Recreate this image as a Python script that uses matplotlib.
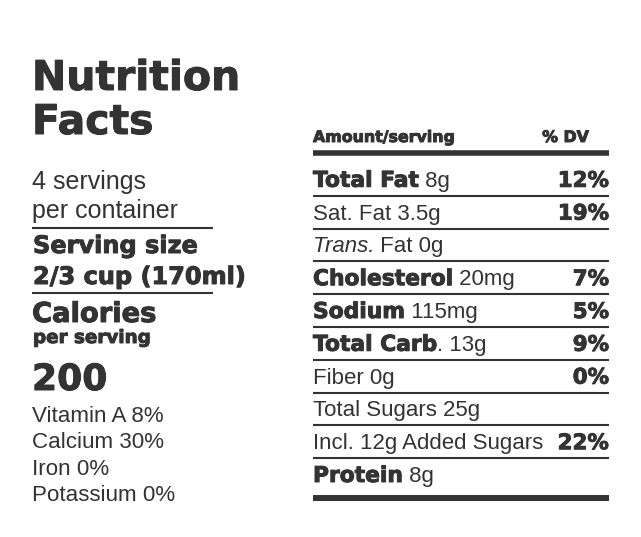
import matplotlib
matplotlib.use("Agg")
import matplotlib.pyplot as plt
import matplotlib.patheffects as pe

INK = "#333333"
# heavy look: DejaVu bold thickened with a thin stroke
HEAVY = dict(family="DejaVu Sans", fontweight="bold",
             path_effects=[pe.withStroke(linewidth=0.7, foreground=INK)])
REG = dict(family="Liberation Sans")

# left column text
title = ["Nutrition", "Facts"]
servings = ["4 servings", "per container"]
serving_size = ["Serving size", "2/3 cup (170ml)"]
calories = 200
vitamins = ["Vitamin A 8%", "Calcium 30%", "Iron 0%", "Potassium 0%"]

# right column rows: (bold part, italic part, regular part, %DV)
row_bold = ["Total Fat", "", "", "Cholesterol", "Sodium", "Total Carb", "", "", "", "Protein"]
row_ital = ["", "", "Trans.", "", "", "", "", "", "", ""]
row_reg = [" 8g", "Sat. Fat 3.5g", " Fat 0g", " 20mg", " 115mg", ". 13g", "Fiber 0g",
           "Total Sugars 25g", "Incl. 12g Added Sugars", " 8g"]
row_dv = ["12%", "19%", "", "7%", "5%", "9%", "0%", "", "22%", ""]

fig = plt.figure(figsize=(6.41, 5.37), dpi=100)
ax = fig.add_axes([0, 0, 1, 1])
ax.set_xlim(0, 641)
ax.set_ylim(537, 0)
ax.axis("off")
renderer = fig.canvas.get_renderer()


def right_edge(t):
    bb = t.get_window_extent(renderer)
    return ax.transData.inverted().transform((bb.x1, bb.y0))[0]


# title
ax.text(32, 90, title[0], fontsize=29.5, color=INK, **HEAVY)
ax.text(32, 134, title[1], fontsize=29.5, color=INK, **HEAVY)

ax.text(32, 189, servings[0], fontsize=18, color=INK, **REG)
ax.text(32, 218, servings[1], fontsize=18, color=INK, **REG)
ax.plot([32, 213], [228, 228], color=INK, lw=1.5, solid_capstyle="butt")
ax.text(33, 253, serving_size[0], fontsize=17.3, color=INK, **HEAVY)
ax.text(33, 284, serving_size[1], fontsize=17.3, color=INK, **HEAVY)
ax.plot([32, 213], [293, 293], color=INK, lw=1.5, solid_capstyle="butt")
ax.text(32, 322, "Calories", fontsize=19.7, color=INK, **HEAVY)
ax.text(33, 343, "per serving", fontsize=13.2, color=INK, **HEAVY)
ax.text(32, 390, str(calories), fontsize=26, color=INK, **HEAVY)
for i, v in enumerate(vitamins):
    ax.text(32, 422 + i * 26.3, v, fontsize=16.1, color=INK, **REG)

# right column
x0, x1 = 313, 609
ax.text(x0, 142, "Amount/serving", fontsize=11.4, color=INK, **HEAVY)
ax.text(589, 142, "% DV", fontsize=11.4, color=INK, ha="right", **HEAVY)
ax.plot([x0, x1], [153, 153], color=INK, lw=4, solid_capstyle="butt")
ax.plot([x0, x1], [498, 498], color=INK, lw=4.3, solid_capstyle="butt")

row_top = 163
row_h = 32.8
for i in range(len(row_reg)):
    base = row_top + (i + 1) * row_h - 9
    x = x0
    if row_bold[i]:
        t = ax.text(x, base, row_bold[i], fontsize=15.7, color=INK, **HEAVY)
        x = right_edge(t)
    if row_ital[i]:
        t = ax.text(x, base, row_ital[i], fontsize=16, color=INK, style="italic", **REG)
        x = right_edge(t)
    ax.text(x, base, row_reg[i], fontsize=16, color=INK, **REG)
    if row_dv[i]:
        ax.text(x1, base, row_dv[i], fontsize=15.4, color=INK, ha="right", **HEAVY)
    if i < len(row_reg) - 1:
        yl = row_top + (i + 1) * row_h
        ax.plot([x0, x1], [yl, yl], color=INK, lw=1.5, solid_capstyle="butt")

fig.savefig("out.png", dpi=100)
